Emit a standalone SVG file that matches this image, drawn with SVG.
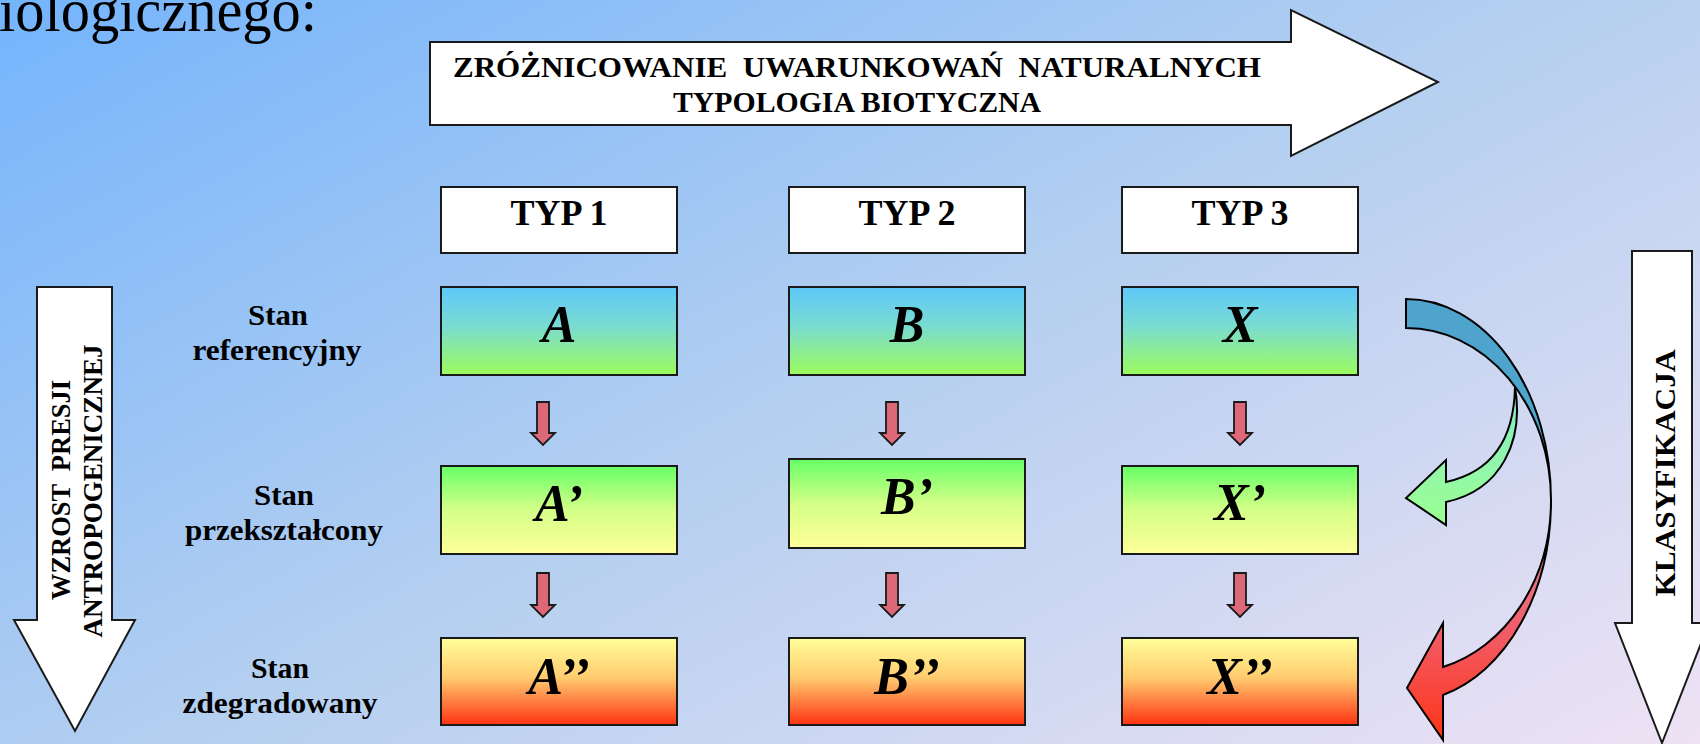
<svg xmlns="http://www.w3.org/2000/svg" width="1700" height="744" viewBox="0 0 1700 744">
<defs>
<linearGradient id="bg" gradientUnits="userSpaceOnUse" x1="0" y1="0" x2="688" y2="1285">
<stop offset="0" stop-color="#74b4fc"/>
<stop offset="0.5" stop-color="#b4cff0"/>
<stop offset="1" stop-color="#eee2f4"/>
</linearGradient>
<linearGradient id="g1" x1="0" y1="0" x2="0" y2="1">
<stop offset="0" stop-color="#5ec8fa"/>
<stop offset="0.45" stop-color="#7adcd0"/>
<stop offset="1" stop-color="#9cfc5c"/>
</linearGradient>
<linearGradient id="g2" x1="0" y1="0" x2="0" y2="1">
<stop offset="0" stop-color="#66ff66"/>
<stop offset="0.5" stop-color="#d4ff88"/>
<stop offset="1" stop-color="#ffff99"/>
</linearGradient>
<linearGradient id="g3" x1="0" y1="0" x2="0" y2="1">
<stop offset="0" stop-color="#ffff99"/>
<stop offset="0.45" stop-color="#ffcc70"/>
<stop offset="1" stop-color="#ff3312"/>
</linearGradient>
<linearGradient id="gRed" gradientUnits="userSpaceOnUse" x1="0" y1="500" x2="0" y2="740">
<stop offset="0" stop-color="#d890a8"/>
<stop offset="0.5" stop-color="#f06070"/>
<stop offset="1" stop-color="#ff3316"/>
</linearGradient>
<linearGradient id="gGreen" gradientUnits="userSpaceOnUse" x1="0" y1="390" x2="0" y2="525">
<stop offset="0" stop-color="#84eccc"/>
<stop offset="1" stop-color="#9cff90"/>
</linearGradient>
<style>
.lbl{font-family:"Liberation Serif",serif;font-weight:bold;fill:#000;text-anchor:middle;white-space:pre}
.big{font-family:"Liberation Serif",serif;font-weight:bold;font-style:italic;font-size:52px;fill:#000;text-anchor:middle}
.box{stroke:#1a1a1a;stroke-width:2}
.wh{fill:#fff;stroke:#1a1a1a;stroke-width:2}
.sa{fill:#dc6878;stroke:#1a1a1a;stroke-width:1.8;stroke-linejoin:miter}
.cv{stroke:#000;stroke-width:2;stroke-linejoin:miter}
</style>
</defs>
<rect width="1700" height="744" fill="url(#bg)"/>
<text x="-1" y="31" font-family="Liberation Serif, serif" font-size="62" fill="#000" textLength="318" lengthAdjust="spacingAndGlyphs">iologicznego:</text>

<g id="arrow-top">
<polygon class="wh" points="430,42 1291,42 1291,10 1438,82 1291,156 1291,125 430,125"/>
<text class="lbl" x="857" y="77" font-size="29" textLength="808" lengthAdjust="spacingAndGlyphs">ZRÓŻNICOWANIE  UWARUNKOWAŃ  NATURALNYCH</text>
<text class="lbl" x="857" y="112" font-size="29" textLength="368" lengthAdjust="spacingAndGlyphs">TYPOLOGIA BIOTYCZNA</text>
</g>

<g id="arrow-left">
<polygon class="wh" points="37,287 112,287 112,620 135,620 75,731 14,620 37,620"/>
<text class="lbl" transform="translate(70,490) rotate(-90)" font-size="28" textLength="220" lengthAdjust="spacingAndGlyphs">WZROST  PRESJI</text>
<text class="lbl" transform="translate(102,491) rotate(-90)" font-size="28" textLength="293" lengthAdjust="spacingAndGlyphs">ANTROPOGENICZNEJ</text>
</g>

<g id="arrow-right">
<polygon class="wh" points="1632,251 1692,251 1692,623 1709,623 1662,743 1615,623 1632,623"/>
<text class="lbl" transform="translate(1675,473) rotate(-90)" font-size="30" textLength="247" lengthAdjust="spacingAndGlyphs">KLASYFIKACJA</text>
</g>

<g id="row-labels">
<text class="lbl" x="278" y="325" font-size="29" textLength="60" lengthAdjust="spacingAndGlyphs">Stan</text>
<text class="lbl" x="277" y="360" font-size="29" textLength="169" lengthAdjust="spacingAndGlyphs">referencyjny</text>
<text class="lbl" x="284" y="505" font-size="29" textLength="60" lengthAdjust="spacingAndGlyphs">Stan</text>
<text class="lbl" x="284" y="540" font-size="29" textLength="198" lengthAdjust="spacingAndGlyphs">przekształcony</text>
<text class="lbl" x="280" y="678" font-size="29" textLength="58" lengthAdjust="spacingAndGlyphs">Stan</text>
<text class="lbl" x="280" y="713" font-size="29" textLength="195" lengthAdjust="spacingAndGlyphs">zdegradowany</text>
</g>

<g id="typ1"><rect class="wh" x="441" y="187" width="236" height="66"/><text class="lbl" x="559" y="225" font-size="36">TYP 1</text></g>
<g id="typ2"><rect class="wh" x="789" y="187" width="236" height="66"/><text class="lbl" x="907" y="225" font-size="36">TYP 2</text></g>
<g id="typ3"><rect class="wh" x="1122" y="187" width="236" height="66"/><text class="lbl" x="1240" y="225" font-size="36">TYP 3</text></g>

<g id="nodeA"><rect class="box" fill="url(#g1)" x="441" y="287" width="236" height="88"/><text class="big" x="559" y="342">A</text></g>
<g id="nodeB"><rect class="box" fill="url(#g1)" x="789" y="287" width="236" height="88"/><text class="big" x="907" y="342">B</text></g>
<g id="nodeX"><rect class="box" fill="url(#g1)" x="1122" y="287" width="236" height="88"/><text class="big" x="1240" y="342">X</text></g>

<g id="nodeA1"><rect class="box" fill="url(#g2)" x="441" y="466" width="236" height="88"/><text class="big" x="559" y="521">A’</text></g>
<g id="nodeB1"><rect class="box" fill="url(#g2)" x="789" y="459" width="236" height="89"/><text class="big" x="907" y="514">B’</text></g>
<g id="nodeX1"><rect class="box" fill="url(#g2)" x="1122" y="466" width="236" height="88"/><text class="big" x="1240" y="520">X’</text></g>

<g id="nodeA2"><rect class="box" fill="url(#g3)" x="441" y="638" width="236" height="87"/><text class="big" x="559" y="694">A’’</text></g>
<g id="nodeB2"><rect class="box" fill="url(#g3)" x="789" y="638" width="236" height="87"/><text class="big" x="907" y="694">B’’</text></g>
<g id="nodeX2"><rect class="box" fill="url(#g3)" x="1122" y="638" width="236" height="87"/><text class="big" x="1240" y="694" font-style="normal">X’’</text></g>

<g id="connectors">
<polygon class="sa" points="537,402 549,402 549,433 555,433 543,445 531,433 537,433"/>
<polygon class="sa" points="537,573 549,573 549,605 555,605 543,617 531,605 537,605"/>
<polygon class="sa" points="886,402 898,402 898,433 904,433 892,445 880,433 886,433"/>
<polygon class="sa" points="886,573 898,573 898,605 904,605 892,617 880,605 886,605"/>
<polygon class="sa" points="1234,402 1246,402 1246,433 1252,433 1240,445 1228,433 1234,433"/>
<polygon class="sa" points="1234,573 1246,573 1246,605 1252,605 1240,617 1228,605 1234,605"/>
<path class="cv" fill="url(#gGreen)" d="M1515,387 C1524,440 1502,490 1446,502 L1446,525 L1406,498 L1446,460 L1446,482 C1492,472 1514,440 1515,387 Z"/>
<path class="cv" fill="#4ea4cc" d="M1406,299 A145,201 0 0 1 1551,500 A145,172 0 0 0 1406,328 Z"/>
<path class="cv" fill="url(#gRed)" d="M1551,500 A145,201 0 0 1 1443,695 L1443,740 L1407,688 L1443,623 L1443,667 A145,172 0 0 0 1551,500 Z"/>
</g>
</svg>
